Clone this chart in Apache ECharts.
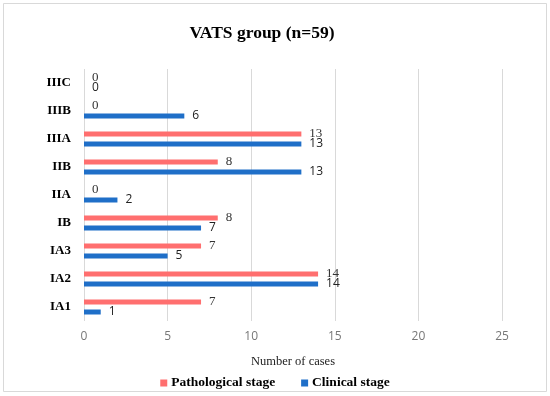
<!DOCTYPE html>
<html><head><meta charset="utf-8">
<script src="https://cdn.jsdelivr.net/npm/echarts@6/dist/echarts.min.js"></script>
<style>html,body{margin:0;padding:0;background:#fff}#c{width:550px;height:396px}</style>
</head><body><div id="c"></div>
<script>
const categories = ['IA1','IA2','IA3','IB','IIA','IIB','IIIA','IIIB','IIIC'];
const pathological = [7,14,7,8,0,8,13,0,0];
const clinical = [1,14,5,7,2,13,13,6,0];
const xTicks = [0,5,10,15,20,25];

const chart = echarts.init(document.getElementById('c'));
const serif = '"Liberation Serif","DejaVu Serif",serif';
const sans = '"Open Sans","Liberation Sans",sans-serif';
chart.setOption({
  animation:false,
  backgroundColor:'#fff',
  graphic:[{type:'rect',shape:{x:3.5,y:3.5,width:543,height:388},style:{fill:'none',stroke:'#d9d9d9',lineWidth:1}}],
  title:{text:'VATS group (n=59)',left:257,top:19,textAlign:'center',
    textStyle:{fontFamily:serif,fontWeight:'bold',fontSize:17.5,color:'#000'}},
  grid:{left:84,right:48,top:69,bottom:75,containLabel:false},
  legend:{data:['Pathological stage','Clinical stage'],left:'center',top:371,
    itemWidth:7,itemHeight:7,itemGap:26,icon:'rect',
    textStyle:{fontFamily:serif,fontWeight:'bold',fontSize:13.5,color:'#000',padding:[0,0,0,-1]}},
  xAxis:{type:'value',min:xTicks[0],max:xTicks[xTicks.length-1],interval:5,
    name:'Number of cases',nameLocation:'middle',nameGap:34,
    nameTextStyle:{fontFamily:serif,fontSize:12.5,color:'#222'},
    axisLine:{show:false},axisTick:{show:false},
    axisLabel:{fontFamily:sans,fontSize:12,color:'#777',margin:10},
    splitLine:{lineStyle:{color:'#d9d9d9'}}},
  yAxis:{type:'category',data:categories,
    axisLine:{show:false},axisTick:{show:false},
    axisLabel:{fontFamily:serif,fontWeight:'bold',fontSize:13,color:'#000',margin:13,padding:[0,0,10,0]}},
  series:[
    {name:'Pathological stage',type:'bar',data:pathological,barWidth:5,barGap:'100%',
      itemStyle:{color:'#FF6F6F'},
      label:{show:true,position:'right',distance:8,fontFamily:serif,fontSize:13,color:'#333'}},
    {name:'Clinical stage',type:'bar',data:clinical,barWidth:5,barGap:'100%',
      itemStyle:{color:'#1F6FC8'},
      label:{show:true,position:'right',distance:8,fontFamily:sans,fontSize:12,color:'#222'}}
  ]
});
</script></body></html>
